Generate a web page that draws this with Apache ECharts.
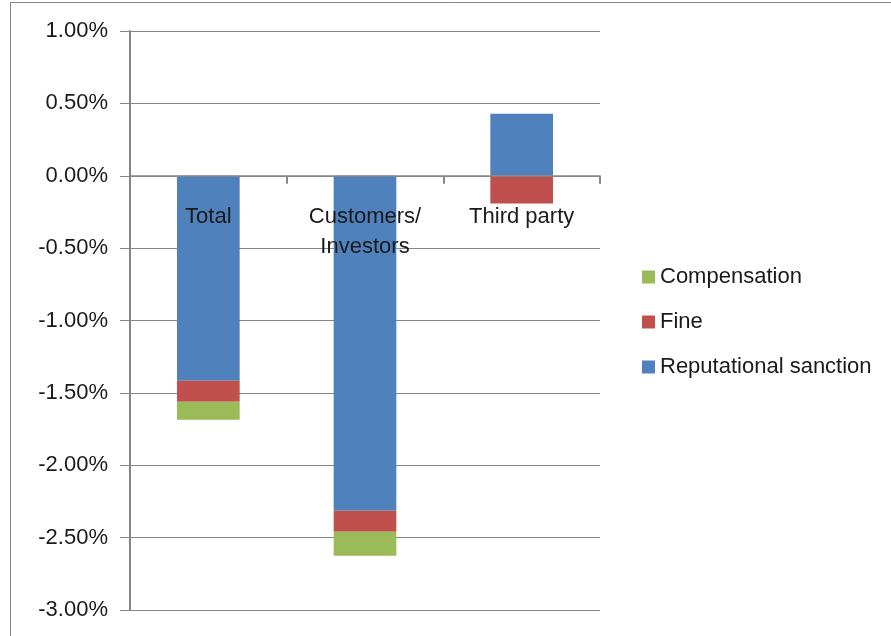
<!DOCTYPE html>
<html>
<head>
<meta charset="utf-8">
<script src="https://cdn.jsdelivr.net/npm/echarts@6/dist/echarts.min.js"></script>
<style>
  html, body { margin: 0; padding: 0; background: #ffffff; }
  #chart { width: 891px; height: 636px; }
</style>
</head>
<body>
<div id="chart"></div>
<script>
// Categories along the horizontal axis
const categories = ['Total', 'Customers/ Investors', 'Third party'];

// Stacked components, in percent
const reputationalSanction = [-1.416, -2.314, 0.428];
const fine = [-0.145, -0.145, -0.191];
const compensation = [-0.124, -0.166, null];

// Vertical axis range and step, in percent
const yMin = -3;
const yMax = 1;
const yStep = 0.5;

const FONT = '"Liberation Sans", Arial, sans-serif';
const FONT_SIZE = 22;
const GREY = '#868686';
const TEXT = '#1a1a1a';

const GRID_TOP = 31;
const GRID_BOTTOM = 26;
const CHART_H = 636;
const plotH = CHART_H - GRID_TOP - GRID_BOTTOM;
// Lift the category axis from the bottom edge up to the zero line
const zeroOffset = -plotH * (0 - yMin) / (yMax - yMin);

const chart = echarts.init(document.getElementById('chart'), null, { renderer: 'canvas' });

chart.setOption({
  backgroundColor: '#ffffff',
  animation: false,
  graphic: [{
    type: 'rect',
    shape: { x: 10.5, y: 2.5, width: 1000, height: 1000 },
    style: { fill: 'none', stroke: GREY, lineWidth: 1 },
    silent: true,
    z: 0
  }],
  grid: {
    left: 130, right: 291, top: GRID_TOP, bottom: GRID_BOTTOM,
    containLabel: false, outerBoundsMode: 'none'
  },
  legend: {
    orient: 'vertical',
    left: 637,
    top: 261,
    itemWidth: 13,
    itemHeight: 13,
    itemGap: 23,
    icon: 'rect',
    data: ['Compensation', 'Fine', 'Reputational sanction'],
    textStyle: { fontFamily: FONT, fontSize: FONT_SIZE, color: TEXT, lineHeight: 22 }
  },
  xAxis: {
    type: 'category',
    data: categories,
    position: 'bottom',
    offset: zeroOffset,
    z: 10,
    axisLine: { onZero: false, lineStyle: { color: GREY, width: 1.5 } },
    axisTick: { show: true, length: 8, lineStyle: { color: GREY, width: 2 } },
    axisLabel: {
      margin: 26,
      fontFamily: FONT,
      fontSize: FONT_SIZE,
      lineHeight: 30,
      color: TEXT,
      interval: 0,
      formatter: v => v.replace('/ ', '/\n')
    }
  },
  yAxis: {
    type: 'value',
    min: yMin,
    max: yMax,
    interval: yStep,
    axisLine: { show: true, lineStyle: { color: GREY, width: 2 } },
    axisTick: { show: true, length: 10, lineStyle: { color: GREY, width: 1 } },
    splitLine: { show: true, lineStyle: { color: GREY, width: 1 } },
    axisLabel: {
      margin: 22,
      fontFamily: FONT,
      fontSize: FONT_SIZE,
      color: TEXT,
      formatter: v => v.toFixed(2) + '%'
    }
  },
  series: [
    {
      name: 'Reputational sanction',
      type: 'bar',
      stack: 'total',
      barWidth: '40%',
      itemStyle: { color: '#4F81BD' },
      data: reputationalSanction
    },
    {
      name: 'Fine',
      type: 'bar',
      stack: 'total',
      barWidth: '40%',
      itemStyle: { color: '#C0504D' },
      data: fine
    },
    {
      name: 'Compensation',
      type: 'bar',
      stack: 'total',
      barWidth: '40%',
      itemStyle: { color: '#9BBB59' },
      data: compensation
    }
  ]
});
</script>
</body>
</html>
